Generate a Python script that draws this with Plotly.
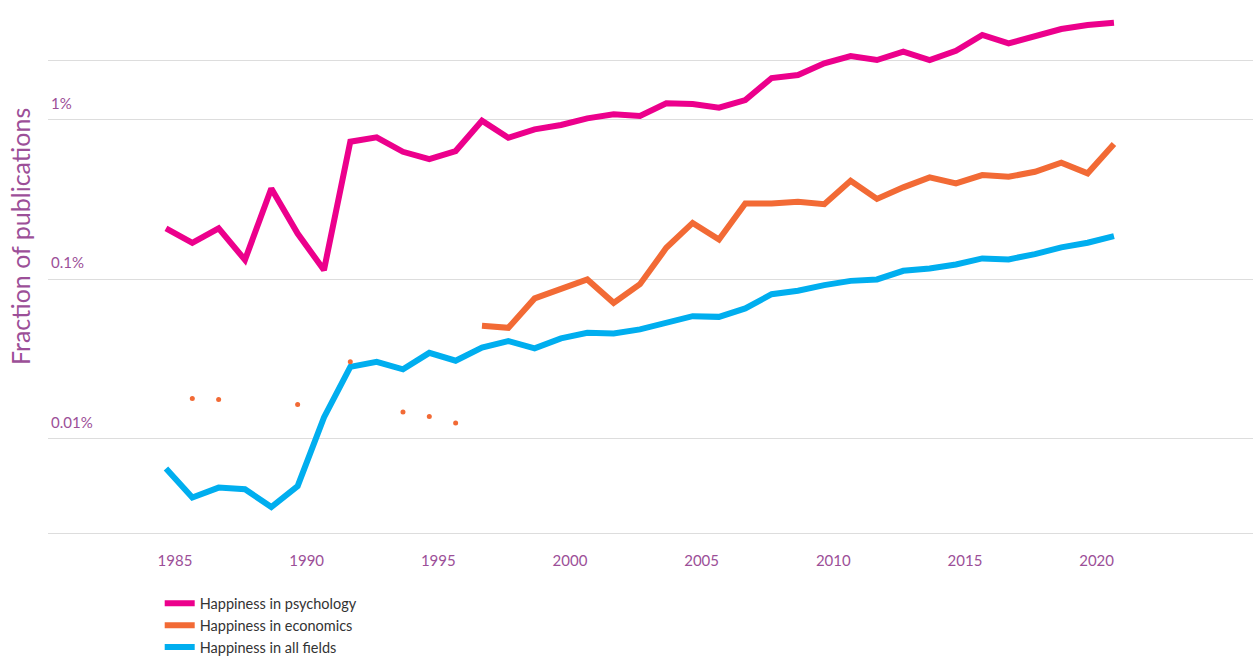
import plotly.graph_objects as go

years = list(range(1985, 2022))

psychology = [0.208, 0.169, 0.208, 0.132, 0.370, 0.193, 0.114, 0.726, 0.773, 0.628,
              0.565, 0.635, 0.983, 0.769, 0.868, 0.924, 1.017, 1.078, 1.052, 1.263,
              1.251, 1.186, 1.325, 1.820, 1.901, 2.25, 2.50, 2.36, 2.66, 2.36,
              2.70, 3.39, 3.00, 3.34, 3.69, 3.91, 4.04]

# economics: continuous series from 1997, sparse isolated values before
econ_line_years = list(range(1997, 2022))
econ_line = [0.0510, 0.0495, 0.0757, 0.0862, 0.0995, 0.0710, 0.0930, 0.157,
             0.225, 0.177, 0.298, 0.298, 0.305, 0.295, 0.413, 0.318, 0.376, 0.434,
             0.398, 0.449, 0.438, 0.471, 0.536, 0.460, 0.702]
econ_dot_years = [1986, 1987, 1990, 1992, 1994, 1995, 1996]
econ_dots = [0.01787, 0.01762, 0.01638, 0.0303, 0.01472, 0.01377, 0.01256]

all_fields = [0.00650, 0.00428, 0.00494, 0.00482, 0.00373, 0.00504, 0.01358, 0.0282, 0.0303, 0.0272,
              0.0345, 0.0308, 0.0373, 0.0409, 0.0368, 0.0425, 0.0461, 0.0457, 0.0484, 0.0532,
              0.0586, 0.0580, 0.0655, 0.0805, 0.0845, 0.0917, 0.0975, 0.0995, 0.1127, 0.1167,
              0.1236, 0.1348, 0.1329, 0.1435, 0.1580, 0.169, 0.186]

series_names = ["Happiness in psychology", "Happiness in economics", "Happiness in all fields"]
colors = ["#EC008C", "#F26A35", "#00AEEF"]

y_tickvals = [0.01, 0.1, 1, 2.36]
y_ticktext = ["0.01%", "0.1%", "1%", ""]
x_tickvals = [1985, 1990, 1995, 2000, 2005, 2010, 2015, 2020]

fig = go.Figure()
fig.add_trace(go.Scatter(x=years, y=psychology, mode="lines", name=series_names[0],
                         line=dict(color=colors[0], width=6)))
fig.add_trace(go.Scatter(x=econ_line_years, y=econ_line, mode="lines", name=series_names[1],
                         line=dict(color=colors[1], width=6)))
fig.add_trace(go.Scatter(x=years, y=all_fields, mode="lines", name=series_names[2],
                         line=dict(color=colors[2], width=6)))
fig.add_trace(go.Scatter(x=econ_dot_years, y=econ_dots, mode="markers", showlegend=False,
                         marker=dict(color=colors[1], size=5)))

purple = "#9C4F98"
fig.update_layout(
    width=1253, height=656,
    margin=dict(l=48, r=0, t=10, b=123, autoexpand=False),
    plot_bgcolor="white", paper_bgcolor="white",
    font=dict(family="Lato", color=purple),
    showlegend=True,
    legend=dict(x=0.0927, y=-0.104, xanchor="left", yanchor="top",
                font=dict(size=14.5, color="#333333"), tracegroupgap=0),
    xaxis=dict(range=[1980.52, 2026.28], tickvals=x_tickvals, showgrid=False,
               showline=True, mirror=False, linecolor="#dddddd", linewidth=1,
               zeroline=False, ticks="", tickfont=dict(size=15, color=purple),
               ticklabelshift=9, ticklabelstandoff=14, automargin=False),
    yaxis=dict(type="log", range=[-2.591, 0.6865], tickvals=y_tickvals, ticktext=y_ticktext,
               showgrid=True, gridcolor="#dddddd", gridwidth=1, zeroline=False,
               showline=False, ticks="", ticklabelposition="inside",
               ticklabelshift=-16, ticklabelstandoff=0, automargin=False,
               tickfont=dict(size=15, color=purple)),
    annotations=[dict(text="Fraction of publications", xref="paper", yref="paper",
                      x=-0.0232, y=0.566, xanchor="center", yanchor="middle",
                      textangle=-90, showarrow=False,
                      font=dict(size=25, color=purple, family="Lato"))],
)

fig.write_html("out.html", config={"displayModeBar": False},
               post_script="document.body.style.margin='0';document.body.style.overflow='hidden';")
